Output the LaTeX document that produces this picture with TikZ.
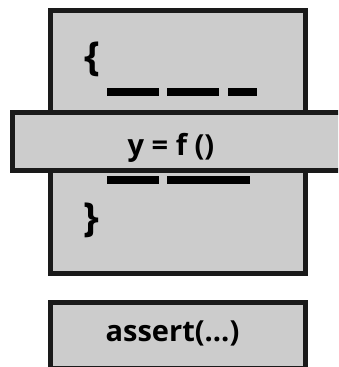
\documentclass[tikz,border=0pt]{standalone}
\usepackage{fontspec}
\setmainfont{Open Sans}
\definecolor{panelgray}{HTML}{CCCCCC}
\definecolor{edge}{HTML}{1A1A1A}
\begin{document}
\begin{tikzpicture}[x=1pt,y=-1pt,
  panel/.style={draw=edge, line width=5pt, fill=panelgray, inner sep=0pt, anchor=north west},
  bar/.style={fill=black, draw=none},
  code/.style={font=\fontsize{29}{32}\selectfont\bfseries, inner sep=0pt, text=black},
  brace/.style={font=\fontsize{40}{44}\selectfont\bfseries, inner sep=0pt, text=black}]
\useasboundingbox (0,0) rectangle (338,367);
\clip (0,0) rectangle (338,367);

% function body
\node[panel, minimum width=255pt, minimum height=263.5pt] (body) at (47.5,7.5) {};
\node[brace] (open) at (92.5,59.3) {\{};
\node[brace] (close) at (91.5,220) {\}};

% placeholder statements
\fill[bar] (107,88) rectangle (159,96);
\fill[bar] (167,88) rectangle (219,96);
\fill[bar] (228,88) rectangle (257,96);
\fill[bar] (107,176) rectangle (159,184);
\fill[bar] (167,176) rectangle (250,184);

% the call under test
\node[panel, minimum width=329pt, minimum height=58pt] (call) at (9.5,110) {};
\node[code, anchor=base] (calltext) at (171,155.7) {y = f ()};

% check
\node[panel, minimum width=255pt, minimum height=65.5pt] (check) at (47.5,300) {};
\node[code, anchor=base] (checktext) at (172.5,341.7) {assert(...)};
\end{tikzpicture}
\end{document}
